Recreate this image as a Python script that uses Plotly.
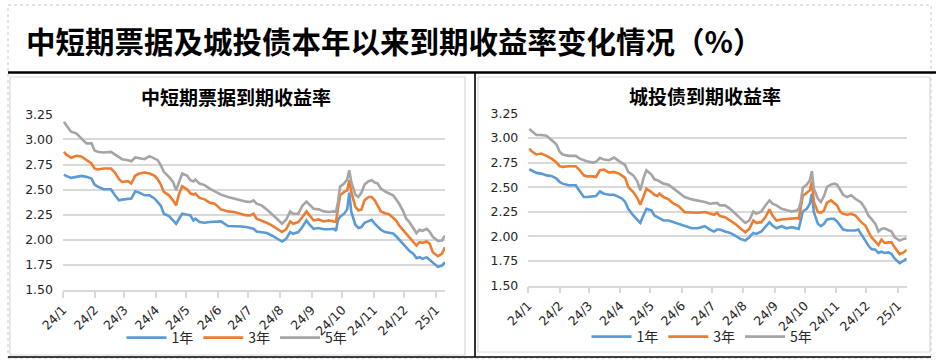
import plotly.graph_objects as go

W, H = 936, 362

# ---------------- data ----------------
dates = [
    "2024-01-02", "2024-01-04", "2024-01-09", "2024-01-14", "2024-01-19", "2024-01-24", "2024-01-29",
    "2024-02-01", "2024-02-04", "2024-02-10", "2024-02-17", "2024-02-21", "2024-02-25", "2024-02-28",
    "2024-03-05", "2024-03-08", "2024-03-12", "2024-03-16", "2024-03-21", "2024-03-26", "2024-03-31",
    "2024-04-03", "2024-04-06", "2024-04-09", "2024-04-14", "2024-04-18", "2024-04-21", "2024-04-24",
    "2024-04-27", "2024-05-02", "2024-05-05", "2024-05-08", "2024-05-10", "2024-05-14", "2024-05-19",
    "2024-05-24", "2024-05-29", "2024-06-04", "2024-06-11", "2024-06-17", "2024-06-24", "2024-06-29",
    "2024-07-03", "2024-07-06", "2024-07-09", "2024-07-14", "2024-07-19", "2024-07-24", "2024-07-29",
    "2024-08-03", "2024-08-07", "2024-08-11", "2024-08-14", "2024-08-19", "2024-08-23", "2024-08-27",
    "2024-08-30", "2024-09-03", "2024-09-08", "2024-09-13", "2024-09-18", "2024-09-23", "2024-09-25",
    "2024-09-27", "2024-09-29", "2024-10-03", "2024-10-06", "2024-10-08", "2024-10-10", "2024-10-14",
    "2024-10-17", "2024-10-20", "2024-10-23", "2024-10-27", "2024-10-30", "2024-11-02", "2024-11-05",
    "2024-11-08", "2024-11-12", "2024-11-16", "2024-11-20", "2024-11-23", "2024-11-26", "2024-11-30",
    "2024-12-03", "2024-12-06", "2024-12-10", "2024-12-13", "2024-12-16", "2024-12-19", "2024-12-23",
    "2024-12-26", "2024-12-29", "2025-01-03", "2025-01-07", "2025-01-10",
]

# 中短期票据 (left)
mtn_1y = [
    2.65, 2.637, 2.617, 2.63, 2.637, 2.627, 2.61, 2.55, 2.53, 2.503, 2.503, 2.443, 2.393, 2.40,
    2.405, 2.41, 2.483, 2.47, 2.443, 2.443, 2.41, 2.38, 2.34, 2.26, 2.237, 2.193, 2.16, 2.21,
    2.26, 2.25, 2.243, 2.193, 2.21, 2.177, 2.17, 2.177, 2.177, 2.183, 2.137, 2.137, 2.133, 2.127,
    2.117, 2.11, 2.083, 2.077, 2.067, 2.043, 2.01, 1.983, 2.01, 2.077, 2.06, 2.077, 2.127, 2.193,
    2.15, 2.11, 2.117, 2.105, 2.105, 2.11, 2.09, 2.20, 2.23, 2.26, 2.303, 2.47, 2.277, 2.15,
    2.117, 2.127, 2.17, 2.183, 2.20, 2.16, 2.13, 2.10, 2.077, 2.07, 2.063, 2.035, 2.00, 1.95,
    1.915, 1.89, 1.86, 1.817, 1.827, 1.81, 1.827, 1.803, 1.77, 1.73, 1.743, 1.777,
]
mtn_3y = [
    2.877, 2.85, 2.817, 2.837, 2.83, 2.795, 2.76, 2.71, 2.70, 2.71, 2.71, 2.67, 2.603, 2.577,
    2.583, 2.56, 2.64, 2.66, 2.67, 2.66, 2.637, 2.603, 2.55, 2.477, 2.443, 2.393, 2.343, 2.46,
    2.533, 2.50, 2.463, 2.45, 2.46, 2.417, 2.403, 2.37, 2.36, 2.303, 2.283, 2.277, 2.26, 2.243,
    2.243, 2.26, 2.21, 2.193, 2.17, 2.143, 2.11, 2.077, 2.103, 2.183, 2.16, 2.177, 2.227, 2.283,
    2.243, 2.193, 2.203, 2.183, 2.193, 2.183, 2.177, 2.32, 2.443, 2.477, 2.493, 2.593, 2.477, 2.327,
    2.293, 2.303, 2.393, 2.427, 2.427, 2.393, 2.343, 2.283, 2.265, 2.255, 2.22, 2.193, 2.143, 2.093,
    2.06, 2.027, 1.977, 1.943, 1.977, 1.97, 1.983, 1.96, 1.877, 1.837, 1.86, 1.927,
]
mtn_5y = [
    3.177, 3.143, 3.077, 3.06, 3.01, 2.96, 2.96, 2.89, 2.877, 2.87, 2.875, 2.85, 2.82, 2.803,
    2.793, 2.783, 2.82, 2.815, 2.803, 2.833, 2.81, 2.793, 2.743, 2.677, 2.627, 2.577, 2.493, 2.577,
    2.66, 2.637, 2.593, 2.58, 2.60, 2.56, 2.545, 2.51, 2.483, 2.45, 2.427, 2.41, 2.39, 2.38,
    2.377, 2.393, 2.36, 2.343, 2.303, 2.26, 2.21, 2.16, 2.20, 2.283, 2.26, 2.26, 2.34, 2.38,
    2.35, 2.31, 2.303, 2.283, 2.277, 2.283, 2.277, 2.38, 2.53, 2.56, 2.603, 2.693, 2.577, 2.45,
    2.427, 2.47, 2.55, 2.583, 2.593, 2.57, 2.56, 2.51, 2.483, 2.46, 2.443, 2.403, 2.36, 2.283,
    2.21, 2.177, 2.11, 2.067, 2.10, 2.09, 2.11, 2.08, 2.03, 1.99, 1.993, 2.043,
]

# 城投债 (right)
lgfv_1y = [
    2.682, 2.672, 2.645, 2.638, 2.62, 2.614, 2.587, 2.553, 2.536, 2.519, 2.519, 2.458, 2.40, 2.40,
    2.41, 2.41, 2.458, 2.434, 2.423, 2.423, 2.40, 2.383, 2.35, 2.28, 2.213, 2.172, 2.138, 2.213,
    2.28, 2.264, 2.213, 2.196, 2.186, 2.162, 2.162, 2.145, 2.128, 2.104, 2.083, 2.083, 2.104, 2.07,
    2.05, 2.07, 2.07,
    2.05, 2.036, 2.009, 1.975, 1.958, 1.992, 2.036, 2.026, 2.05, 2.094, 2.145, 2.111, 2.083, 2.104,
    2.083, 2.094, 2.083, 2.077, 2.162, 2.253, 2.28, 2.332, 2.434, 2.247, 2.128, 2.104, 2.128, 2.172,
    2.179, 2.179, 2.152, 2.104, 2.07, 2.06, 2.06, 2.06, 2.07, 2.026, 1.958, 1.907, 1.872, 1.866,
    1.832, 1.845, 1.832, 1.838, 1.821, 1.777, 1.729, 1.753, 1.777,
]
lgfv_3y = [
    2.893, 2.866, 2.832, 2.842, 2.818, 2.79, 2.75, 2.713, 2.706, 2.713, 2.713, 2.672, 2.62, 2.61,
    2.61, 2.604, 2.672, 2.679, 2.648, 2.655, 2.638, 2.62, 2.594, 2.502, 2.45, 2.39, 2.321, 2.40,
    2.485, 2.45, 2.423, 2.41, 2.434, 2.40, 2.376, 2.332, 2.308, 2.247, 2.24, 2.24, 2.247, 2.23,
    2.22, 2.24, 2.206,
    2.196, 2.162, 2.128, 2.083, 2.043, 2.077, 2.162, 2.138, 2.145, 2.196, 2.274, 2.213, 2.162, 2.172,
    2.179, 2.179, 2.186, 2.179, 2.28, 2.41, 2.444, 2.468, 2.56, 2.349, 2.247, 2.24, 2.264, 2.342,
    2.366, 2.342, 2.315, 2.253, 2.23, 2.22, 2.23, 2.213, 2.179, 2.145, 2.111, 2.043, 1.992, 1.947,
    1.913, 1.968, 1.934, 1.94, 1.94, 1.889, 1.821, 1.838, 1.866,
]
lgfv_5y = [
    3.09, 3.07, 3.03, 3.03, 3.022, 2.978, 2.934, 2.86, 2.832, 2.818, 2.818, 2.79, 2.774, 2.764,
    2.75, 2.757, 2.798, 2.78, 2.774, 2.80, 2.764, 2.74, 2.723, 2.655, 2.62, 2.56, 2.468, 2.587,
    2.672, 2.628, 2.58, 2.57, 2.56, 2.536, 2.526, 2.485, 2.45, 2.40, 2.376, 2.366, 2.35, 2.332,
    2.338, 2.34, 2.315,
    2.315, 2.28, 2.23, 2.179, 2.138, 2.162, 2.253, 2.23, 2.253, 2.315, 2.366, 2.332, 2.315, 2.28,
    2.264, 2.253, 2.264, 2.28, 2.349, 2.492, 2.526, 2.57, 2.662, 2.485, 2.383, 2.349, 2.41, 2.502,
    2.526, 2.536, 2.526, 2.468, 2.423, 2.40, 2.417, 2.383, 2.366, 2.342, 2.28, 2.213, 2.179, 2.128,
    2.05, 2.077, 2.083, 2.06, 2.05, 1.992, 1.958, 1.975, 1.981,
]

series_names = ["1年", "3年", "5年"]
tick_dates = [
    "2024-01-01", "2024-02-01", "2024-03-01", "2024-04-01", "2024-05-01", "2024-06-01", "2024-07-01",
    "2024-08-01", "2024-09-01", "2024-10-01", "2024-11-01", "2024-12-01", "2025-01-01",
]
tick_labels = ["24/1", "24/2", "24/3", "24/4", "24/5", "24/6", "24/7",
               "24/8", "24/9", "24/10", "24/11", "24/12", "25/1"]
y_ticks = [1.50, 1.75, 2.00, 2.25, 2.50, 2.75, 3.00, 3.25]

main_title = "中短期票据及城投债本年以来到期收益率变化情况（%）"
left_title = "中短期票据到期收益率"
right_title = "城投债到期收益率"

# ---------------- style ----------------
colors = ["#5B9BD5", "#ED7D31", "#A5A5A5"]
CJK = "Noto Sans CJK SC"
NUM = "DejaVu Sans"
GRID = "#D9D9D9"


def px(x):
    return x / W


def py(y):
    return 1 - y / H


fig = go.Figure()

for i, (name, vals) in enumerate(zip(series_names, [mtn_1y, mtn_3y, mtn_5y])):
    fig.add_trace(go.Scatter(x=dates, y=vals, name=name, mode="lines",
                             line=dict(color=colors[i], width=2.6),
                             xaxis="x", yaxis="y", legend="legend"))
for i, (name, vals) in enumerate(zip(series_names, [lgfv_1y, lgfv_3y, lgfv_5y])):
    fig.add_trace(go.Scatter(x=dates, y=vals, name=name, mode="lines",
                             line=dict(color=colors[i], width=2.6),
                             xaxis="x2", yaxis="y2", legend="legend2"))

xcommon = dict(type="date", range=["2024-01-01", "2025-01-10"],
               tickmode="array", tickvals=tick_dates, ticktext=tick_labels,
               tickangle=-45, ticks="outside", ticklen=6, tickwidth=1.5, tickcolor=GRID,
               showline=True, linecolor=GRID, linewidth=1.5, showgrid=False, zeroline=False,
               automargin=False,
               tickfont=dict(family=NUM, size=12.5, color="#262626"), fixedrange=True)
ycommon = dict(range=[1.5, 3.25], tickmode="array", tickvals=y_ticks, tickformat=".2f",
               showgrid=True, gridcolor=GRID, gridwidth=1.5, zeroline=False, showline=False,
               ticks="", ticklabelstandoff=9, automargin=False,
               tickfont=dict(family=NUM, size=12.5, color="#262626"), fixedrange=True)

fig.update_layout(
    width=W, height=H,
    margin=dict(l=0, r=0, t=0, b=0, autoexpand=False),
    paper_bgcolor="white", plot_bgcolor="white",
    showlegend=True,
    xaxis=dict(domain=[px(63), px(445)], anchor="y", **xcommon),
    yaxis=dict(domain=[py(290), py(114.3)], anchor="x", **ycommon),
    xaxis2=dict(domain=[px(528.3), px(906.7)], anchor="y2", **xcommon),
    yaxis2=dict(domain=[py(285.7), py(113.3)], anchor="x2", **ycommon),
    legend=dict(orientation="h", x=px(237), xanchor="center", y=py(338), yanchor="middle",
                font=dict(family=CJK, size=14, color="#262626"), bgcolor="rgba(0,0,0,0)",
                itemwidth=40, tracegroupgap=0),
    legend2=dict(orientation="h", x=px(702), xanchor="center", y=py(337), yanchor="middle",
                 font=dict(family=CJK, size=14, color="#262626"), bgcolor="rgba(0,0,0,0)",
                 itemwidth=40, tracegroupgap=0),
)

annotations = [
    dict(text=main_title, x=px(24), y=py(40), xref="paper", yref="paper", xanchor="left",
         yanchor="middle", showarrow=False,
         font=dict(family=CJK, size=29.5, color="#000000", weight="bold")),
    dict(text=left_title, x=px(236), y=py(96), xref="paper", yref="paper", xanchor="center",
         yanchor="middle", showarrow=False,
         font=dict(family=CJK, size=19, color="#000000", weight="bold")),
    dict(text=right_title, x=px(705), y=py(95), xref="paper", yref="paper", xanchor="center",
         yanchor="middle", showarrow=False,
         font=dict(family=CJK, size=19, color="#000000", weight="bold")),
]
fig.update_layout(annotations=annotations)


def rect(x0, y0, x1, y1, color, width, dash="solid"):
    return dict(type="rect", xref="paper", yref="paper", x0=px(x0), x1=px(x1), y0=py(y1), y1=py(y0),
                line=dict(color=color, width=width, dash=dash), fillcolor="rgba(0,0,0,0)", layer="below")


def line(x0, y0, x1, y1, color, width):
    return dict(type="line", xref="paper", yref="paper", x0=px(x0), x1=px(x1), y0=py(y0), y1=py(y1),
                line=dict(color=color, width=width), layer="above")


shapes = [
    rect(8, 5, 931, 358, "#C8C8C8", 1, "dot"),
    rect(10, 77, 465, 355, GRID, 1.2),
    rect(478, 77, 930, 352, GRID, 1.2),
    line(8, 72.5, 936, 72.5, "#000000", 2.5),
    line(8, 357, 931, 357, "#000000", 1.6),
    line(475, 72, 475, 357, "#000000", 1.6),
]
fig.update_layout(shapes=shapes)

# remove the browser's default 8px page margin so the figure fills the window exactly
fig.write_html("out.html",
               config={"displayModeBar": False, "staticPlot": False},
               post_script="document.body.style.margin='0';document.body.style.overflow='hidden';")
